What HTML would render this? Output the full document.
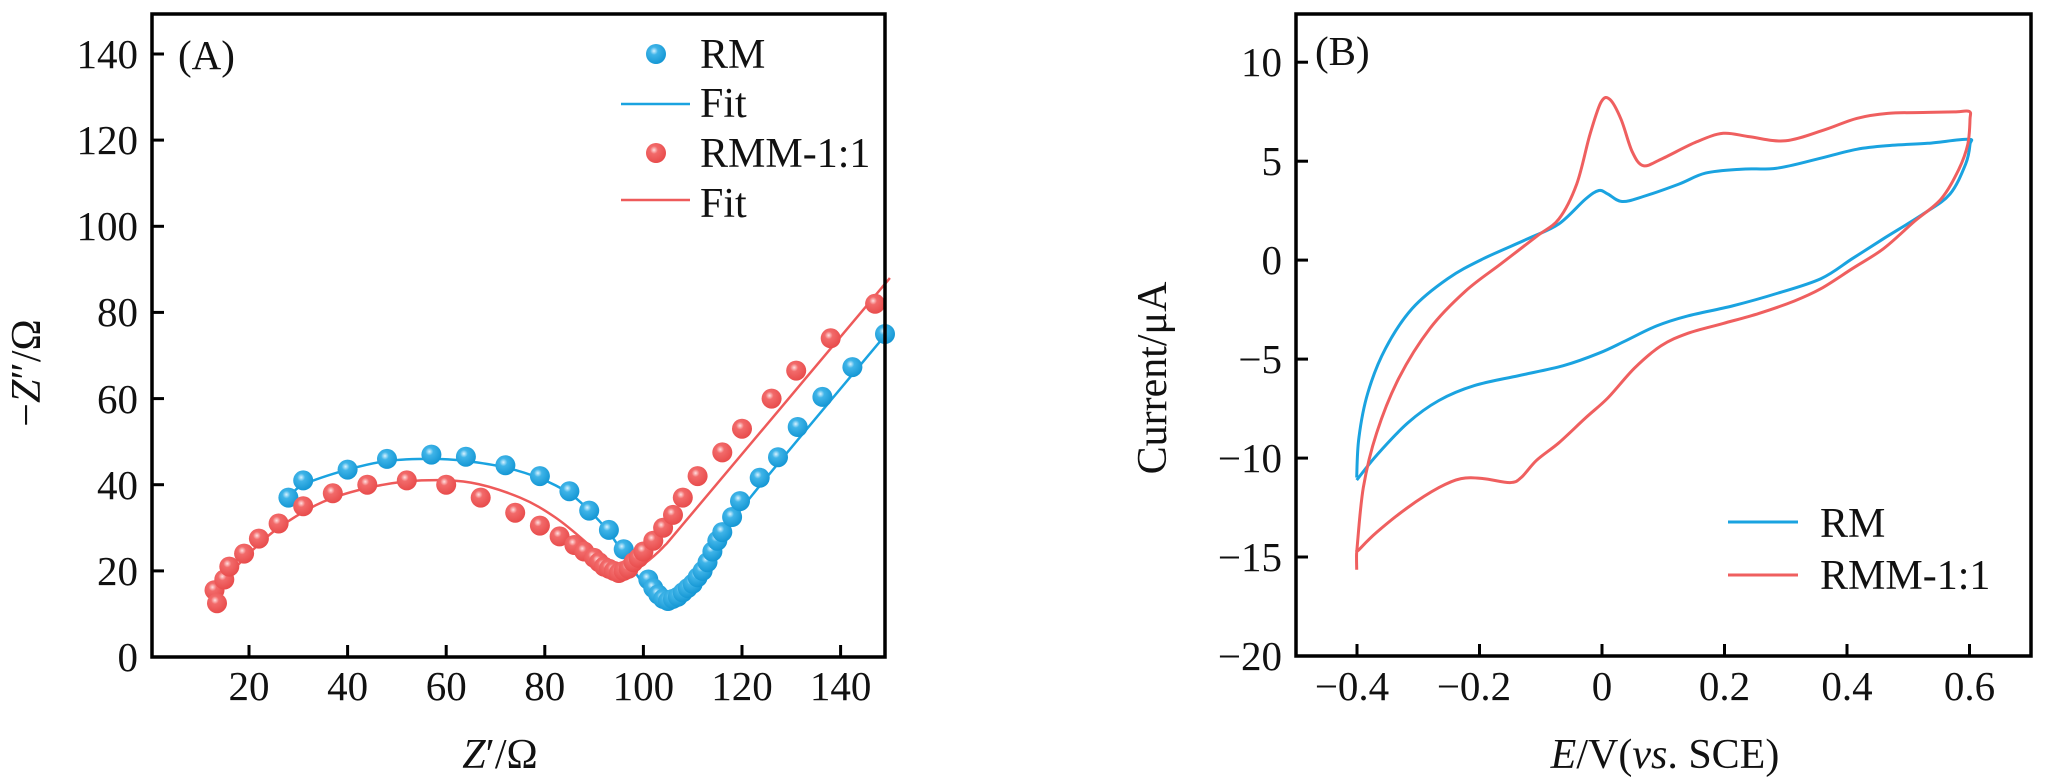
<!DOCTYPE html>
<html><head><meta charset="utf-8"><style>
html,body{margin:0;padding:0;background:#fff}
svg{display:block}
text{font-family:"Liberation Serif",serif;fill:#111}
</style></head><body>
<svg id="s" width="2047" height="779" viewBox="0 0 2047 779" xmlns="http://www.w3.org/2000/svg">
<defs>
<radialGradient id="gb" cx="0.4" cy="0.35" r="0.65"><stop offset="0" stop-color="#d8f2ff"/><stop offset="0.3" stop-color="#3fb4e8"/><stop offset="1" stop-color="#1597d4"/></radialGradient>
<radialGradient id="gr" cx="0.4" cy="0.35" r="0.65"><stop offset="0" stop-color="#ffe0e0"/><stop offset="0.3" stop-color="#f26a6a"/><stop offset="1" stop-color="#e84c4c"/></radialGradient>
</defs>
<g id="A"></g>
<rect x="152" y="14" width="733" height="643" fill="none" stroke="#000" stroke-width="3.5"/>
<g stroke="#000" stroke-width="3">
<line x1="249" y1="657" x2="249" y2="645"/><line x1="347.6" y1="657" x2="347.6" y2="645"/><line x1="446.2" y1="657" x2="446.2" y2="645"/><line x1="544.8" y1="657" x2="544.8" y2="645"/><line x1="643.4" y1="657" x2="643.4" y2="645"/><line x1="742" y1="657" x2="742" y2="645"/><line x1="840.6" y1="657" x2="840.6" y2="645"/>
<line x1="152" y1="570.9" x2="164" y2="570.9"/><line x1="152" y1="484.7" x2="164" y2="484.7"/><line x1="152" y1="398.6" x2="164" y2="398.6"/><line x1="152" y1="312.4" x2="164" y2="312.4"/><line x1="152" y1="226.3" x2="164" y2="226.3"/><line x1="152" y1="140.1" x2="164" y2="140.1"/><line x1="152" y1="54" x2="164" y2="54"/>
</g>
<g font-size="41" text-anchor="end">
<text x="138" y="671">0</text><text x="138" y="585">20</text><text x="138" y="499">40</text><text x="138" y="413">60</text><text x="138" y="326">80</text><text x="138" y="240">100</text><text x="138" y="154">120</text><text x="138" y="68">140</text>
</g>
<g font-size="41" text-anchor="middle">
<text x="249" y="700">20</text><text x="347.6" y="700">40</text><text x="446.2" y="700">60</text><text x="544.8" y="700">80</text><text x="643.4" y="700">100</text><text x="742" y="700">120</text><text x="840.6" y="700">140</text>
</g>
<text x="500" y="768" font-size="42" text-anchor="middle"><tspan font-style="italic">Z</tspan>′/Ω</text>
<text transform="translate(40,373) rotate(-90)" font-size="42" text-anchor="middle">−<tspan font-style="italic">Z</tspan>″/Ω</text>
<text x="178" y="69" font-size="41">(A)</text>
<circle cx="656" cy="54" r="10" fill="url(#gb)"/>
<line x1="621" y1="104" x2="690" y2="104" stroke="#1aa3e0" stroke-width="2.5"/>
<circle cx="656" cy="153" r="10" fill="url(#gr)"/>
<line x1="621" y1="200" x2="690" y2="200" stroke="#ee5a5a" stroke-width="2.5"/>
<g font-size="42"><text x="700" y="68">RM</text><text x="700" y="117">Fit</text><text x="700" y="167">RMM-1:1</text><text x="700" y="217">Fit</text></g>

<rect x="1296" y="14" width="735" height="642" fill="none" stroke="#000" stroke-width="3.5"/>
<g stroke="#000" stroke-width="3">
<line x1="1357" y1="656" x2="1357" y2="644"/><line x1="1479.5" y1="656" x2="1479.5" y2="644"/><line x1="1602" y1="656" x2="1602" y2="644"/><line x1="1724.5" y1="656" x2="1724.5" y2="644"/><line x1="1847" y1="656" x2="1847" y2="644"/><line x1="1969.5" y1="656" x2="1969.5" y2="644"/>
<line x1="1296" y1="62.2" x2="1308" y2="62.2"/><line x1="1296" y1="161.2" x2="1308" y2="161.2"/><line x1="1296" y1="260.1" x2="1308" y2="260.1"/><line x1="1296" y1="359.1" x2="1308" y2="359.1"/><line x1="1296" y1="458.1" x2="1308" y2="458.1"/><line x1="1296" y1="557" x2="1308" y2="557"/>
</g>
<g font-size="41" text-anchor="end">
<text x="1282" y="76">10</text><text x="1282" y="175">5</text><text x="1282" y="274">0</text><text x="1282" y="373">−5</text><text x="1282" y="472">−10</text><text x="1282" y="571">−15</text><text x="1282" y="670">−20</text>
</g>
<g font-size="41" text-anchor="middle">
<text x="1352" y="700">−0.4</text><text x="1474" y="700">−0.2</text><text x="1602" y="700">0</text><text x="1724.5" y="700">0.2</text><text x="1847" y="700">0.4</text><text x="1969.5" y="700">0.6</text>
</g>
<text x="1665" y="768" font-size="42" text-anchor="middle"><tspan font-style="italic">E</tspan>/V(<tspan font-style="italic">vs</tspan>. SCE)</text>
<text transform="translate(1166,378) rotate(-90)" font-size="42" text-anchor="middle">Current/μA</text>
<text x="1315" y="65" font-size="41">(B)</text>
<g id="B" fill="none" stroke-width="3" stroke-linejoin="round"></g>
<line x1="1728" y1="522" x2="1798" y2="522" stroke="#1aa3e0" stroke-width="3"/>
<line x1="1728" y1="575" x2="1798" y2="575" stroke="#ef5f5f" stroke-width="3"/>
<g font-size="42"><text x="1820" y="537">RM</text><text x="1820" y="589">RMM-1:1</text></g>
</svg>
<script>
(function(){
var ns="http://www.w3.org/2000/svg",g=document.getElementById("A"),gB=document.getElementById("B");
function X(x){return 150.4+x*4.93} function Y(y){return 657-y*4.307}
function smooth(P){var d="M"+P[0][0].toFixed(1)+","+P[0][1].toFixed(1);
for(var i=0;i<P.length-1;i++){var p0=P[i-1]||P[i],p1=P[i],p2=P[i+1],p3=P[i+2]||p2;
var c1=[p1[0]+(p2[0]-p0[0])/6,p1[1]+(p2[1]-p0[1])/6],c2=[p2[0]-(p3[0]-p1[0])/6,p2[1]-(p3[1]-p1[1])/6];
d+="C"+c1[0].toFixed(1)+","+c1[1].toFixed(1)+" "+c2[0].toFixed(1)+","+c2[1].toFixed(1)+" "+p2[0].toFixed(1)+","+p2[1].toFixed(1);}return d;}
function mk(par,d,col,w){var e=document.createElementNS(ns,"path");e.setAttribute("d",d);e.setAttribute("fill","none");e.setAttribute("stroke",col);e.setAttribute("stroke-width",w);e.setAttribute("stroke-linejoin","round");par.appendChild(e);}
function pathA(pts,col){mk(g,smooth(pts.map(function(p){return [X(p[0]),Y(p[1])]})),col,"2.5");}
function dots(pts,f){pts.forEach(function(p){var c=document.createElementNS(ns,"circle");c.setAttribute("cx",X(p[0]).toFixed(1));c.setAttribute("cy",Y(p[1]).toFixed(1));c.setAttribute("r","10");c.setAttribute("fill",f);g.appendChild(c);});}
var blue=[[28,37],[31,41],[40,43.5],[48,46],[57,47],[64,46.5],[72,44.5],[79,42],[85,38.5],[89,34],[93,29.5],[96,25],[101,18],[102,16],[103,14.5],[104,13.5],[105,13],[106,13.5],[107,14],[108,15],[109,16],[110,17],[111,18.5],[112,20],[113,22],[114,24.5],[115,27],[116,29],[118,32.5],[119.6,36.2],[123.6,41.6],[127.3,46.4],[131.3,53.4],[136.3,60.4],[142.4,67.3],[149,75]];
var red=[[13,15.5],[13.5,12.5],[15,18],[16,21],[19,24],[22,27.5],[26,31],[31,35],[37,38],[44,40],[52,41],[60,40],[67,37],[74,33.5],[79,30.5],[83,28],[86,26],[88,24.5],[90,23],[91,22],[92,21],[93,20.5],[94,20],[95,19.5],[96,20],[97,20.5],[98,22],[99,23],[100,24.5],[102,27],[104,30],[106,33],[108,37],[111,42],[116,47.5],[120,53],[126,60],[131,66.5],[138,74],[147,82]];
pathA([[28,37],[31,40],[40,43.5],[48,45.5],[57,46],[64,45.5],[72,44],[79,41.5],[85,38],[89,34],[93,29],[97,22],[100,17],[103,13.8],[105,13],[107,13.5],[110,17],[113,22],[117,29],[122,37.5],[150,76]],"#1aa3e0");
pathA([[13,14],[16,19],[20,24],[26,30],[35,36],[45,39.5],[55,41],[65,40.5],[75,37],[82,32.5],[88,27],[92,22.5],[95,20],[97,19.5],[100,21.5],[104,25.5],[110,33.5],[150,88]],"#ee5a5a");
dots(blue,"url(#gb)");dots(red,"url(#gr)");
function tb(a){return a.map(function(p){return [1350+p[0]/2.25,p[1]/2.01]})}
var bl=[[15,960],[20,880],[40,790],[80,700],[140,620],[220,560],[300,520],[400,480],[470,450],[530,400],[560,383],[580,390],[612,405],[660,395],[740,370],[800,348],[880,340],[960,338],[1050,320],[1140,300],[1220,292],[1300,288],[1390,280],[1395,290],[1385,330],[1350,390],[1290,430],[1200,480],[1130,520],[1060,560],[960,590],[860,615],[760,635],[690,655],[620,685],[560,710],[480,735],[380,755],[280,775],[200,805],[130,850],[60,915],[15,965]];
var rd=[[15,1145],[15,1110],[20,1105],[60,1070],[130,1020],[200,980],[250,962],[300,962],[360,970],[385,960],[420,925],[470,890],[530,840],[580,800],[640,740],[700,695],[760,670],[840,650],[920,630],[1000,605],[1060,580],[1130,540],[1200,500],[1270,445],[1330,400],[1370,340],[1390,290],[1395,240],[1393,224],[1360,225],[1300,226],[1210,228],[1140,238],[1070,260],[980,283],[900,275],[840,268],[780,285],[700,320],[660,333],[635,305],[610,240],[585,200],[565,205],[540,270],[510,370],[470,440],[420,475],[340,530],[260,585],[180,660],[110,760],[60,870],[30,980],[15,1110]];
mk(gB,smooth(tb(bl)),"#1aa3e0","3");mk(gB,smooth(tb(rd)),"#ef5f5f","3");
})();
</script>
</body></html>
